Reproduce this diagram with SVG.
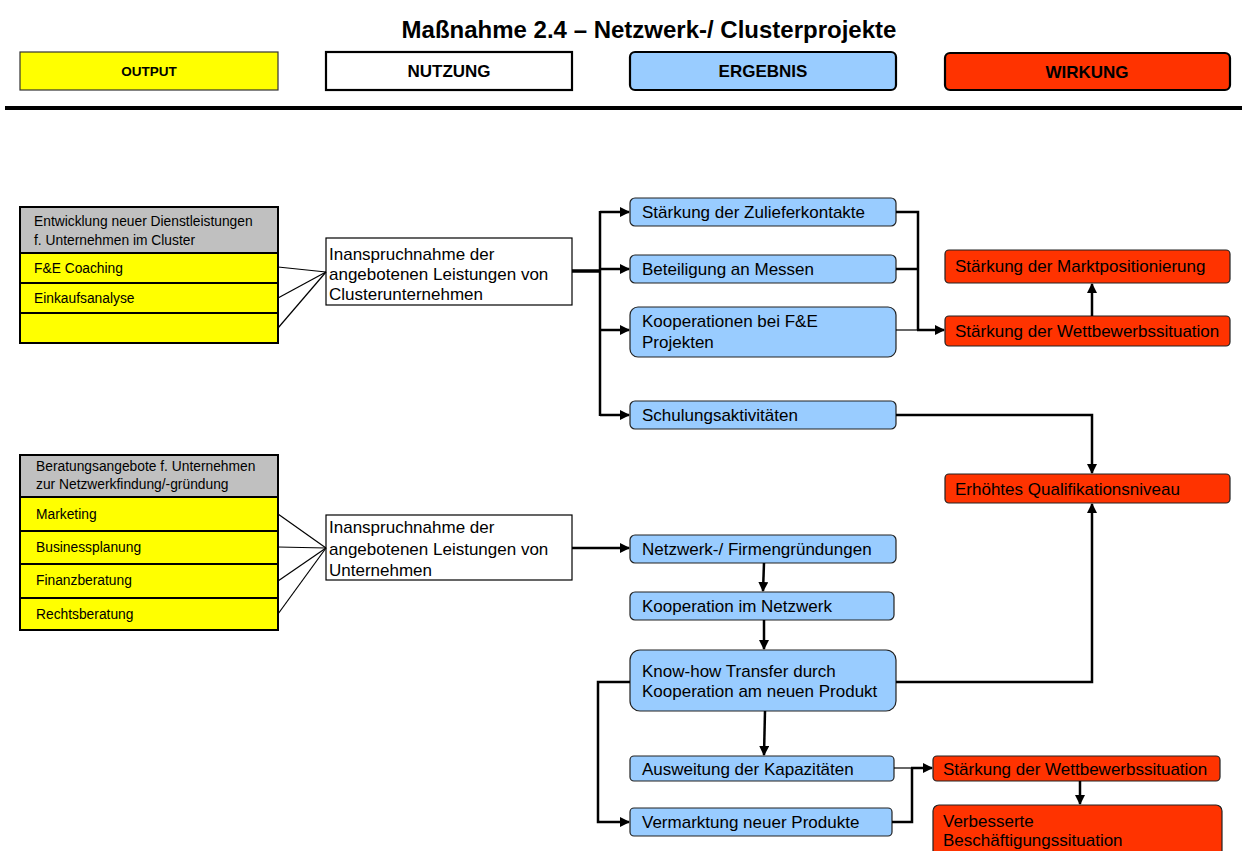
<svg xmlns="http://www.w3.org/2000/svg" width="1242" height="851" viewBox="0 0 1242 851">
<defs>
<style>
text{font-family:"Liberation Sans",Arial,sans-serif;fill:#000}
.t{font-size:17px}
.s{font-size:13.8px}
.hb{font-size:17px;font-weight:bold;text-anchor:middle}
.blue{fill:#99ccff;stroke:#222;stroke-width:1.2}
.red{fill:#ff3300;stroke:#222;stroke-width:1.2}
.yel{fill:#ffff00;stroke:#000;stroke-width:2}
.gray{fill:#c0c0c0;stroke:#000;stroke-width:2}
.wht{fill:#fff;stroke:#000;stroke-width:1.2}
.c{fill:none;stroke:#000;stroke-width:2.5}
.c1{fill:none;stroke:#000;stroke-width:1.2}
</style>
<marker id="ah" viewBox="0 0 10 10" refX="9" refY="5" markerWidth="4" markerHeight="4" orient="auto" markerUnits="strokeWidth">
<path d="M0,0 L10,5 L0,10 z" fill="#000"/>
</marker>
</defs>
<rect width="1242" height="851" fill="#fff"/>
<text x="649" y="38" text-anchor="middle" style="font-size:24px;font-weight:bold">Maßnahme 2.4 – Netzwerk-/ Clusterprojekte</text>
<g id="hdr-output"><rect x="20" y="52" width="258" height="38" fill="#ffff00" stroke="#333" stroke-width="1.2"/><text x="149" y="76" class="hb" style="font-size:13.5px">OUTPUT</text></g>
<g id="hdr-nutzung"><rect x="326" y="52" width="246" height="38" fill="#fff" stroke="#000" stroke-width="2.2"/><text x="449" y="77" class="hb">NUTZUNG</text></g>
<g id="hdr-ergebnis"><rect x="630" y="52" width="266" height="38" rx="5" fill="#99ccff" stroke="#000" stroke-width="2.2"/><text x="763" y="77" class="hb">ERGEBNIS</text></g>
<g id="hdr-wirkung"><rect x="945" y="53" width="285" height="37" rx="5" fill="#ff3300" stroke="#000" stroke-width="2.2"/><text x="1087" y="78" class="hb">WIRKUNG</text></g>
<line x1="5" y1="108" x2="1242" y2="108" stroke="#000" stroke-width="4"/>

<g id="out1">
<rect x="20" y="207" width="258" height="46" class="gray"/>
<text x="34" y="226" class="s">Entwicklung neuer Dienstleistungen</text>
<text x="34" y="245" class="s">f. Unternehmen im Cluster</text>
<rect x="20" y="253" width="258" height="30" class="yel"/>
<text x="34" y="273" class="s">F&amp;E Coaching</text>
<rect x="20" y="283" width="258" height="30" class="yel"/>
<text x="34" y="303" class="s">Einkaufsanalyse</text>
<rect x="20" y="313" width="258" height="30" class="yel"/>
</g>
<g id="out2">
<rect x="20" y="455" width="258" height="42" class="gray"/>
<text x="36" y="471" class="s">Beratungsangebote f. Unternehmen</text>
<text x="36" y="489" class="s">zur Netzwerkfindung/-gründung</text>
<rect x="20" y="497" width="258" height="34" class="yel"/>
<text x="36" y="519" class="s">Marketing</text>
<rect x="20" y="531" width="258" height="33" class="yel"/>
<text x="36" y="552" class="s">Businessplanung</text>
<rect x="20" y="564" width="258" height="34" class="yel"/>
<text x="36" y="585" class="s">Finanzberatung</text>
<rect x="20" y="598" width="258" height="32" class="yel"/>
<text x="36" y="619" class="s">Rechtsberatung</text>
</g>

<g id="nutz1"><rect x="326" y="238" width="246" height="67" class="wht"/>
<text x="329" y="260" class="t">Inanspruchnahme der</text>
<text x="329" y="280" class="t">angebotenen Leistungen von</text>
<text x="329" y="300" class="t">Clusterunternehmen</text></g>
<g id="nutz2"><rect x="326" y="515" width="246" height="65" class="wht"/>
<text x="329" y="533" class="t">Inanspruchnahme der</text>
<text x="329" y="555" class="t">angebotenen Leistungen von</text>
<text x="329" y="576" class="t">Unternehmen</text></g>

<g id="e1"><rect x="630" y="198" width="266" height="28" rx="5" class="blue"/><text x="642" y="218" class="t">Stärkung der Zulieferkontakte</text></g>
<g id="e2"><rect x="630" y="255" width="266" height="28" rx="5" class="blue"/><text x="642" y="275" class="t">Beteiligung an Messen</text></g>
<g id="e3"><rect x="630" y="307" width="266" height="50" rx="8" class="blue"/><text x="642" y="327" class="t">Kooperationen bei F&amp;E</text><text x="642" y="348" class="t">Projekten</text></g>
<g id="e4"><rect x="630" y="401" width="266" height="28" rx="5" class="blue"/><text x="642" y="421" class="t">Schulungsaktivitäten</text></g>
<g id="e5"><rect x="630" y="535" width="266" height="28" rx="5" class="blue"/><text x="642" y="555" class="t">Netzwerk-/ Firmengründungen</text></g>
<g id="e6"><rect x="630" y="592" width="264" height="28" rx="5" class="blue"/><text x="642" y="612" class="t">Kooperation im Netzwerk</text></g>
<g id="e7"><rect x="630" y="650" width="266" height="61" rx="10" class="blue"/><text x="642" y="677" class="t">Know-how Transfer durch</text><text x="642" y="697" class="t">Kooperation am neuen Produkt</text></g>
<g id="e8"><rect x="630" y="756" width="264" height="25" rx="4" class="blue"/><text x="642" y="775" class="t">Ausweitung der Kapazitäten</text></g>
<g id="e9"><rect x="630" y="808" width="262" height="28" rx="4" class="blue"/><text x="642" y="828" class="t">Vermarktung neuer Produkte</text></g>

<g id="w1"><rect x="945" y="250" width="285" height="33" rx="4" class="red"/><text x="955" y="272" class="t">Stärkung der Marktpositionierung</text></g>
<g id="w2"><rect x="945" y="316" width="285" height="30" rx="4" class="red"/><text x="955" y="337" class="t">Stärkung der Wettbewerbssituation</text></g>
<g id="w3"><rect x="945" y="474" width="285" height="29" rx="4" class="red"/><text x="955" y="495" class="t">Erhöhtes Qualifikationsniveau</text></g>
<g id="w4"><rect x="933" y="756" width="287" height="25" rx="4" class="red"/><text x="943" y="775" class="t">Stärkung der Wettbewerbssituation</text></g>
<g id="w5"><rect x="933" y="805" width="289" height="60" rx="6" class="red"/><text x="943" y="827" class="t">Verbesserte</text><text x="943" y="846" class="t">Beschäftigungssituation</text></g>

<g id="connectors">
<line x1="278" y1="267" x2="326" y2="272" class="c1"/>
<line x1="278" y1="298" x2="326" y2="272" class="c1"/>
<line x1="278" y1="328" x2="326" y2="272" class="c1"/>
<line x1="278" y1="514" x2="326" y2="548" class="c1"/>
<line x1="278" y1="547" x2="326" y2="548" class="c1"/>
<line x1="278" y1="581" x2="326" y2="548" class="c1"/>
<line x1="278" y1="614" x2="326" y2="548" class="c1"/>

<line x1="572" y1="271" x2="600" y2="271" stroke="#000" stroke-width="3.5"/>
<line x1="600" y1="211" x2="600" y2="416" class="c"/>
<line x1="600" y1="212" x2="629" y2="212" class="c" marker-end="url(#ah)"/>
<line x1="600" y1="269" x2="629" y2="269" class="c" marker-end="url(#ah)"/>
<line x1="600" y1="330" x2="629" y2="330" class="c" marker-end="url(#ah)"/>
<line x1="600" y1="415" x2="629" y2="415" class="c" marker-end="url(#ah)"/>

<polyline points="896,212 918,212 918,330" class="c"/>
<line x1="896" y1="269" x2="918" y2="269" class="c"/>
<line x1="896" y1="330" x2="918" y2="330" class="c1"/>
<line x1="917" y1="330" x2="944" y2="330" class="c" marker-end="url(#ah)"/>
<line x1="1092" y1="316" x2="1092" y2="284" class="c" marker-end="url(#ah)"/>
<polyline points="896,415 1092,415 1092,473" class="c" marker-end="url(#ah)"/>
<polyline points="896,682 1092,682 1092,504" class="c" marker-end="url(#ah)"/>

<line x1="572" y1="548" x2="629" y2="548" class="c" marker-end="url(#ah)"/>
<line x1="764" y1="563" x2="763" y2="591" class="c" marker-end="url(#ah)"/>
<line x1="764" y1="620" x2="764" y2="649" class="c" marker-end="url(#ah)"/>
<line x1="765" y1="711" x2="764" y2="755" class="c" marker-end="url(#ah)"/>
<polyline points="630,682 598,682 598,822 629,822" class="c" marker-end="url(#ah)"/>
<line x1="894" y1="768" x2="912" y2="768" class="c1"/>
<polyline points="892,822 912,822 912,768" class="c"/>
<line x1="911" y1="768" x2="932" y2="768" class="c" marker-end="url(#ah)"/>
<line x1="1080" y1="781" x2="1080" y2="804" class="c" marker-end="url(#ah)"/>
</g>
</svg>
